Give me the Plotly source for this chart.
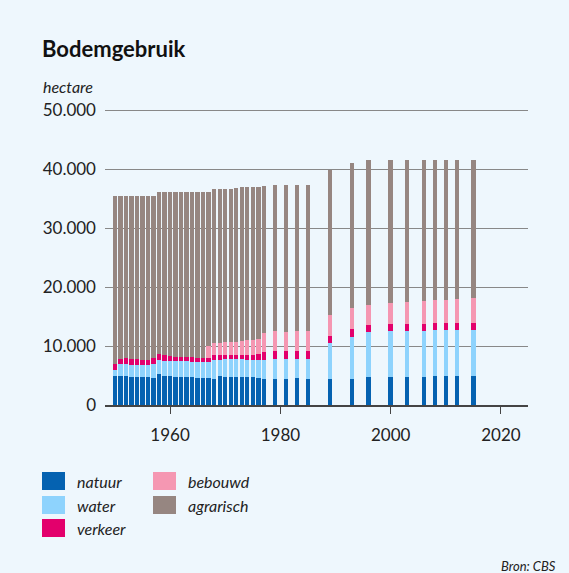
import plotly.graph_objects as go

# Bodemgebruik (hectare)
years = list(range(1950, 1978)) + [1979, 1981, 1983, 1985, 1989, 1993, 1996,
                                   2000, 2003, 2006, 2008, 2010, 2012, 2015]

natuur = [5000, 4890, 4890, 4770, 4770, 4710, 4710, 4600, 5230, 5000,
          4890, 4830, 4830, 4770, 4770, 4660, 4600, 4540, 4480, 4890,
          4830, 4830, 4770, 4710, 4710, 4710, 4660, 4370,
          4430, 4470, 4530, 4470, 4470, 4470, 4700,
          4750, 4750, 4750, 4870, 4870, 4920, 4920]

water = [860, 2010, 2120, 2010, 2010, 2010, 2010, 2300, 2360, 2470,
         2520, 2580, 2580, 2640, 2590, 2640, 2640, 2700, 3220, 2810,
         2930, 2930, 2990, 3050, 2990, 2990, 3040, 3270,
         3390, 3340, 3340, 3340, 6000, 7130, 7750,
         7810, 7810, 7870, 7810, 7860, 7810, 7870]

verkeer = [1040, 920, 920, 980, 980, 980, 980, 1030, 1030, 1030,
           870, 810, 810, 810, 800, 750, 690, 690, 750, 750,
           800, 800, 750, 800, 860, 860, 920, 1380,
           1320, 1360, 1350, 1410, 1300, 1300, 1130,
           1190, 1250, 1190, 1190, 1190, 1190, 1190]

bebouwd = [0, 0, 0, 0, 0, 0, 0, 0, 0, 0,
           0, 0, 0, 0, 0, 0, 0, 2070, 2010, 2010,
           2070, 2070, 2240, 2300, 2420, 2470, 2530, 3160,
           3330, 3280, 3340, 3340, 3510, 3510, 3400,
           3570, 3730, 3900, 3900, 3960, 4080, 4130]

agrarisch = [28580, 27660, 27550, 27720, 27720, 27780, 27780, 27550, 27540, 27660,
             27880, 27940, 27940, 27940, 28000, 28110, 28230, 26160, 26140, 26140,
             25970, 25970, 26090, 26100, 25980, 25930, 25810, 25000,
             24770, 24900, 24790, 24790, 24520, 24620, 24500,
             24160, 23940, 23770, 23710, 23600, 23480, 23370]

series = [('natuur', natuur, '#0562B1'),
          ('water', water, '#8ED3FD'),
          ('verkeer', verkeer, '#E3006C'),
          ('bebouwd', bebouwd, '#F597B2'),
          ('agrarisch', agrarisch, '#968681')]

y_ticks = [0, 10000, 20000, 30000, 40000, 50000]
x_ticks = [1960, 1980, 2000, 2020]

BG = '#EEF7FD'
FONT = 'Lato'

# plot area in pixels: left 105, right 528, top 105, bottom 405
def px_x(px):
    return (px - 105) / 423


def px_y(py):
    return (405 - py) / 300


data = [go.Bar(x=years, y=vals, name=name, width=0.8,
               marker={'color': color, 'line': {'width': 0}},
               showlegend=False, hoverinfo='skip')
        for name, vals, color in series]

shapes = []
annotations = [
    dict(text='<b>Bodemgebruik</b>', x=px_x(40), y=px_y(48), xref='paper', yref='paper',
         xanchor='left', yanchor='middle', showarrow=False,
         font={'family': FONT, 'size': 22, 'color': '#111111'}),
    dict(text='<i>hectare</i>', x=px_x(41), y=px_y(86), xref='paper', yref='paper',
         xanchor='left', yanchor='middle', showarrow=False,
         font={'family': FONT, 'size': 16, 'color': '#222222'}),
    dict(text='<i>Bron: CBS</i>', x=px_x(558), y=px_y(566), xref='paper', yref='paper',
         xanchor='right', yanchor='middle', showarrow=False,
         font={'family': FONT, 'size': 13, 'color': '#222222'}),
]

# legend: two columns of coloured blocks
legend_pos = [(42, 481), (42, 505), (42, 528), (153, 481), (153, 505)]
for (name, vals, color), (lx, ly) in zip(series, legend_pos):
    shapes.append(dict(type='rect', xref='paper', yref='paper',
                       x0=px_x(lx), x1=px_x(lx + 23), y0=px_y(ly - 9), y1=px_y(ly + 9),
                       fillcolor=color, line={'width': 0}))
    annotations.append(dict(text=f'<i>{name}</i>', x=px_x(lx + 33), y=px_y(ly),
                            xref='paper', yref='paper', xanchor='left', yanchor='middle',
                            showarrow=False,
                            font={'family': FONT, 'size': 16, 'color': '#222222'}))

layout = go.Layout(
    width=569, height=573,
    margin={'l': 105, 'r': 41, 't': 105, 'b': 168},
    paper_bgcolor=BG, plot_bgcolor=BG,
    barmode='stack',
    separators=',.',
    font={'family': FONT, 'size': 17, 'color': '#222222'},
    xaxis={'range': [1948.2, 2024.9], 'tickvals': x_ticks, 'ticks': 'outside',
           'ticklen': 7, 'tickcolor': '#444444', 'tickwidth': 1.2,
           'showline': True, 'linecolor': '#444444', 'linewidth': 1.5,
           'showgrid': False, 'zeroline': False, 'ticklabelstandoff': 7},
    yaxis={'range': [0, 50850], 'tickvals': y_ticks, 'tickformat': ',d',
           'showgrid': True, 'gridcolor': '#888888', 'gridwidth': 1,
           'zeroline': False, 'showline': False, 'ticklabelstandoff': 8},
    shapes=shapes,
    annotations=annotations,
)

fig = go.Figure(data=data, layout=layout)
# drop the default page margin so the figure fills the window
fig.write_html('out.html', config={'displayModeBar': False},
               post_script="document.body.style.margin='0';")
